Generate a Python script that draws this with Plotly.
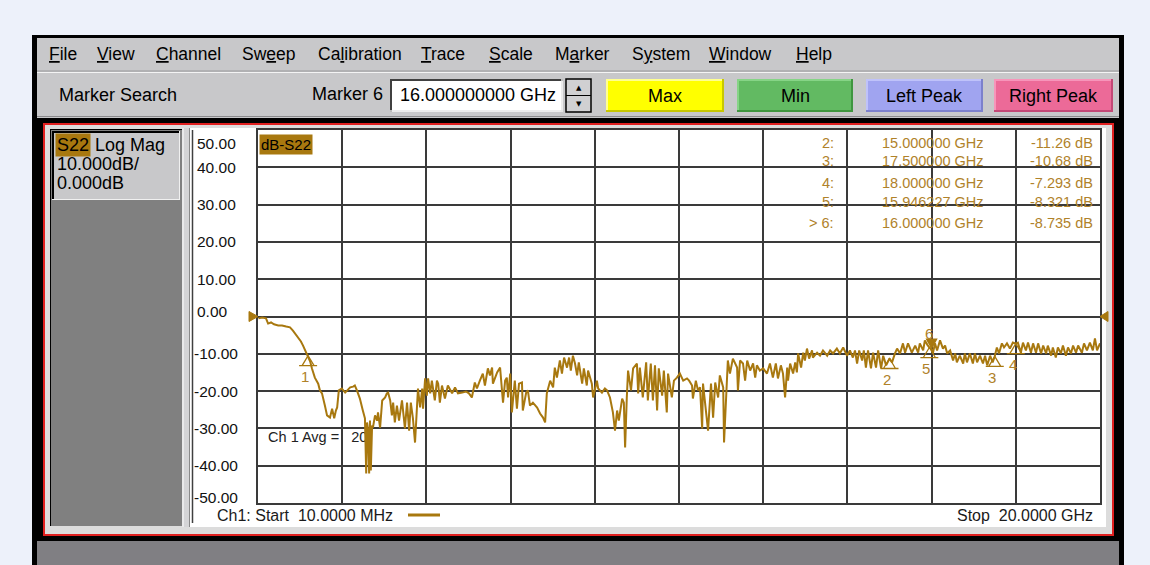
import plotly.graph_objects as go

W, H = 1150, 565

# ---- S22 log-magnitude sweep, 10 MHz .. 20 GHz ----
freq_ghz = [
    0.01, 0.10, 0.19, 0.24, 0.31, 0.38, 0.48, 0.57, 0.67, 0.76,
    0.83, 0.90, 0.95, 1.02, 1.07, 1.14, 1.19, 1.24, 1.28, 1.35,
    1.43, 1.47, 1.52, 1.57, 1.59, 1.64, 1.69, 1.71, 1.76, 1.81,
    1.85, 1.88, 1.92, 1.99, 2.07, 2.14, 2.19, 2.26, 2.30, 2.35,
    2.42, 2.49, 2.54, 2.57, 2.59, 2.61, 2.64, 2.66, 2.68, 2.71,
    2.73, 2.78, 2.83, 2.85, 2.90, 2.95, 3.02, 3.06, 3.09, 3.14,
    3.18, 3.21, 3.25, 3.30, 3.35, 3.42, 3.44, 3.49, 3.54, 3.59,
    3.63, 3.68, 3.73, 3.78, 3.80, 3.85, 3.90, 3.92, 3.97, 4.01,
    4.04, 4.09, 4.13, 4.20, 4.25, 4.28, 4.32, 4.37, 4.44, 4.51,
    4.61, 4.68, 4.75, 4.85, 4.94, 5.01, 5.08, 5.15, 5.20, 5.27,
    5.34, 5.39, 5.46, 5.51, 5.56, 5.58, 5.63, 5.68, 5.75, 5.82,
    5.87, 5.91, 5.94, 5.99, 6.03, 6.10, 6.15, 6.20, 6.27, 6.29,
    6.37, 6.41, 6.46, 6.53, 6.63, 6.70, 6.77, 6.82, 6.86, 6.89,
    6.94, 7.01, 7.05, 7.10, 7.17, 7.22, 7.27, 7.34, 7.39, 7.43,
    7.48, 7.53, 7.58, 7.62, 7.70, 7.74, 7.81, 7.84, 7.93, 7.96,
    8.05, 8.08, 8.17, 8.24, 8.29, 8.36, 8.43, 8.48, 8.53, 8.57,
    8.65, 8.69, 8.72, 8.76, 8.79, 8.86, 8.91, 9.00, 9.03, 9.07,
    9.14, 9.22, 9.26, 9.33, 9.38, 9.43, 9.48, 9.52, 9.60, 9.64,
    9.71, 9.74, 9.83, 9.88, 9.95, 10.02, 10.10, 10.19, 10.24, 10.31,
    10.33, 10.40, 10.45, 10.50, 10.55, 10.57, 10.64, 10.69, 10.76, 10.81,
    10.86, 10.93, 10.97, 11.05, 11.07, 11.14, 11.16, 11.21, 11.28, 11.38,
    11.40, 11.45, 11.52, 11.57, 11.62, 11.69, 11.76, 11.81, 11.85, 11.92,
    12.00, 12.09, 12.16, 12.23, 12.30, 12.35, 12.42, 12.47, 12.52, 12.57,
    12.59, 12.64, 12.71, 12.76, 12.80, 12.83, 12.90, 12.95, 12.99, 13.04,
    13.09, 13.16, 13.18, 13.28, 13.35, 13.42, 13.52, 13.59, 13.66, 13.75,
    13.82, 13.90, 13.99, 14.06, 14.13, 14.18, 14.23, 14.28, 14.35, 14.39,
    14.44, 14.49, 14.56, 14.61, 14.68, 14.73, 14.80, 14.85, 14.92, 15.00,
    15.06, 15.13, 15.18, 15.25, 15.32, 15.37, 15.44, 15.53, 15.61, 15.68,
    15.72, 15.80, 15.84, 15.90, 15.946227, 16.00, 16.03, 16.08, 16.13, 16.20,
    16.27, 16.32, 16.37, 16.44, 16.51, 16.56, 16.60, 16.67, 16.75, 16.79,
    16.84, 16.91, 16.98, 17.03, 17.08, 17.15, 17.22, 17.27, 17.32, 17.39,
    17.45, 17.50, 17.55, 17.60, 17.67, 17.72, 17.79, 17.86, 17.93, 18.00,
    18.05, 18.12, 18.17, 18.24, 18.29, 18.36, 18.41, 18.48, 18.53, 18.60,
    18.65, 18.72, 18.76, 18.84, 18.88, 18.95, 19.00, 19.07, 19.12, 19.19,
    19.24, 19.31, 19.36, 19.43, 19.48, 19.57, 19.62, 19.69, 19.76, 19.83,
    19.88, 19.93, 20.00,
]
s22_db = [
    -0.5, -0.3, -0.5, -1.9, -1.6, -2.1, -2.4, -2.4, -2.7, -2.9,
    -3.8, -4.8, -5.6, -6.7, -7.8, -9.4, -10.5, -12.1, -13.9, -16.4,
    -18.0, -19.8, -20.6, -22.5, -23.9, -26.5, -26.8, -27.1, -24.7, -27.3,
    -25.2, -24.4, -19.8, -19.3, -20.4, -19.6, -19.0, -18.8, -18.5, -19.8,
    -22.0, -25.2, -27.3, -42.1, -28.4, -30.0, -42.1, -27.9, -41.3, -29.2,
    -29.8, -26.5, -27.9, -25.7, -29.8, -22.5, -21.7, -20.6, -20.4, -22.5,
    -26.5, -23.1, -28.4, -23.9, -27.9, -22.5, -25.2, -30.0, -23.1, -30.6,
    -23.1, -27.3, -33.8, -24.4, -19.3, -24.4, -19.3, -24.7, -16.6, -21.2,
    -16.6, -20.6, -17.2, -22.5, -17.2, -18.0, -23.1, -18.5, -22.0, -18.5,
    -20.6, -19.0, -20.6, -20.4, -20.1, -20.6, -21.7, -17.7, -19.3, -17.2,
    -15.3, -18.5, -13.9, -15.8, -13.7, -18.0, -16.6, -15.0, -13.7, -23.1,
    -17.2, -16.4, -21.7, -15.3, -25.7, -17.2, -24.7, -18.0, -17.7, -25.2,
    -20.4, -19.8, -23.9, -23.1, -24.4, -26.0, -27.1, -28.4, -20.6, -19.3,
    -17.2, -19.0, -13.7, -16.4, -11.8, -15.3, -11.0, -13.7, -11.0, -14.5,
    -10.5, -12.6, -15.8, -12.3, -18.0, -13.9, -18.5, -14.5, -18.0, -21.7,
    -17.2, -19.3, -20.4, -19.3, -19.8, -21.7, -25.7, -30.6, -25.2, -27.9,
    -22.0, -23.1, -35.1, -21.7, -14.5, -19.8, -13.9, -12.6, -20.6, -13.7,
    -21.7, -12.3, -22.5, -12.6, -22.5, -13.1, -25.2, -13.9, -21.2, -14.5,
    -25.7, -15.3, -21.7, -17.2, -16.4, -15.3, -17.2, -16.6, -17.2, -18.5,
    -22.0, -17.2, -19.8, -19.0, -30.0, -18.0, -25.2, -30.6, -18.0, -27.1,
    -17.7, -21.7, -15.8, -19.0, -33.8, -14.5, -11.8, -15.3, -11.3, -13.7,
    -19.8, -11.8, -12.6, -17.2, -11.8, -14.5, -12.6, -16.4, -13.1, -14.5,
    -13.9, -15.3, -12.6, -16.4, -12.6, -16.6, -13.1, -15.3, -21.7, -13.7,
    -17.2, -12.6, -15.3, -12.3, -15.0, -9.9, -13.7, -9.7, -11.8, -8.6,
    -11.3, -9.1, -11.0, -9.7, -10.5, -9.1, -10.5, -9.1, -9.9, -8.6,
    -9.9, -8.3, -10.5, -9.1, -11.0, -9.1, -12.6, -9.1, -11.8, -9.1,
    -13.7, -9.1, -13.9, -9.7, -13.7, -9.1, -13.9, -10.5, -13.1, -11.26,
    -12.3, -9.9, -8.6, -9.9, -7.2, -9.7, -7.2, -9.7, -7.8, -9.7,
    -7.2, -9.1, -6.4, -7.6, -8.321, -8.735, -9.9, -7.2, -9.1, -6.4,
    -8.6, -7.8, -9.9, -9.1, -11.8, -9.9, -12.3, -10.5, -12.6, -9.9,
    -12.3, -9.9, -12.6, -9.9, -12.3, -10.5, -12.6, -10.5, -13.1, -10.5,
    -12.3, -10.68, -8.3, -9.9, -7.2, -8.3, -7.2, -8.6, -7.0, -7.293,
    -7.0, -9.7, -7.0, -9.1, -7.0, -9.7, -7.2, -9.7, -7.2, -9.9,
    -7.8, -9.9, -7.8, -10.5, -8.3, -11.0, -8.3, -9.9, -7.8, -10.5,
    -8.3, -9.9, -7.8, -9.7, -7.8, -9.7, -7.2, -9.1, -7.0, -9.1,
    -5.9, -9.1, -7.2,
]

# ---- markers ----
marker_ids = [1, 2, 3, 4, 5, 6]
marker_freq_ghz = [1.19, 15.0, 17.5, 18.0, 15.946227, 16.0]
marker_db = [-10.5, -11.26, -10.68, -7.293, -8.321, -8.735]
active_marker = 6
table_markers = [2, 3, 4, 5, 6]

ref_level_db = 0.0
avg_count = 20

y_ticks = [50, 40, 30, 20, 10, 0, -10, -20, -30, -40, -50]
y_tick_text = ["50.00", "40.00", "30.00", "20.00", "10.00", "0.00",
               "-10.00", "-20.00", "-30.00", "-40.00", "-50.00"]

menu_labels = ["<u>F</u>ile", "<u>V</u>iew", "<u>C</u>hannel", "Sw<u>e</u>ep",
               "Ca<u>l</u>ibration", "<u>T</u>race", "<u>S</u>cale", "M<u>a</u>rker",
               "S<u>y</u>stem", "<u>W</u>indow", "<u>H</u>elp"]
search_buttons = ["Max", "Min", "Left Peak", "Right Peak"]
start_label = "Ch1: Start  10.0000 MHz"
stop_label = "Stop  20.0000 GHz"

# ---- styling ----
FONT = "Liberation Sans, Arial, sans-serif"
GOLD = "#A8780F"
GOLD_TXT = "#B0822A"
GRID = "#3A3A3A"
UI_GRAY = "#C8C8CA"
menu_x = [47, 95, 154, 240, 316, 419, 487, 553, 630, 707, 794]
button_boxes = [(606, 724), (737, 853), (866, 983), (994, 1113)]
button_fill = ["#FFFF00", "#62BA62", "#A0A4F0", "#EC6A98"]
button_light = ["#FFFF90", "#86D486", "#BFC2FA", "#F795BA"]
button_dark = ["#C8C800", "#3F963F", "#7C80CC", "#C44876"]

GRID_L, GRID_R, GRID_T, GRID_B = 258, 1100, 130, 503


def X(px):
    return px / W


def Y(py):
    return 1 - py / H


shapes = []
annots = []


def rect(x0, y0, x1, y1, fill, line=None, lw=0, layer="below"):
    shapes.append(dict(type="rect", xref="paper", yref="paper",
                       x0=X(x0), x1=X(x1), y0=Y(y1), y1=Y(y0),
                       fillcolor=fill, line=dict(color=line or fill, width=lw),
                       layer=layer))


def seg(x0, y0, x1, y1, color, w=1, layer="below"):
    shapes.append(dict(type="line", xref="paper", yref="paper",
                       x0=X(x0), x1=X(x1), y0=Y(y0), y1=Y(y1),
                       line=dict(color=color, width=w), layer=layer))


def text(px, py, s, size=18, color="#000000", anchor="left", bg=None, family=FONT):
    a = dict(xref="paper", yref="paper", x=X(px), y=Y(py), text=s,
             showarrow=False, xanchor=anchor, yanchor="middle",
             font=dict(family=family, size=size, color=color), borderpad=1)
    if bg:
        a["bgcolor"] = bg
    annots.append(a)


# window frame and menu / toolbar
rect(32, 35, 1124, 565, "#000000")
rect(37, 38, 1119, 118, UI_GRAY)
seg(37, 71, 1119, 71, "#9A9A9C", 1)
seg(37, 72.5, 1119, 72.5, "#F4F4F4", 1)
seg(37, 116.5, 1119, 116.5, "#8A8A8C", 1)
for lbl, mx in zip(menu_labels, menu_x):
    text(mx, 54, lbl, size=17.5)

text(57, 95, "Marker Search", size=18)
text(310, 94, "Marker 6", size=18)

# frequency entry box
rect(390, 79, 563, 112, "#FFFFFF")
seg(390, 80, 563, 80, "#404040", 2)
seg(391, 79, 391, 112, "#404040", 2)
seg(390, 111, 563, 111, "#E4E4E4", 1.5)
seg(562, 79, 562, 112, "#E4E4E4", 1.5)
text(398, 95, "%.9f GHz" % marker_freq_ghz[marker_ids.index(active_marker)], size=18)

# spinner
rect(566, 79, 591, 112, "#D0D0D2", "#000000", 1.5)
seg(566, 95.5, 591, 95.5, "#000000", 1)
text(578.5, 87.5, "▲", size=7, anchor="center", family="DejaVu Sans")
text(578.5, 103.5, "▼", size=7, anchor="center", family="DejaVu Sans")

# search buttons
for lbl, (bx0, bx1), f, lt, dk in zip(search_buttons, button_boxes, button_fill, button_light, button_dark):
    rect(bx0, 79, bx1, 112, f)
    seg(bx0, 80, bx1, 80, lt, 2)
    seg(bx0 + 1, 79, bx0 + 1, 112, lt, 2)
    seg(bx0, 111, bx1, 111, dk, 2)
    seg(bx1 - 1, 79, bx1 - 1, 112, dk, 2)
    text((bx0 + bx1) / 2, 96, lbl, size=18, anchor="center")

# channel window frame
rect(44, 124, 1113, 535, "#DCDCDC", "#E02020", 2)
rect(50, 129, 182, 526, "#808080")
seg(50, 129.5, 182, 129.5, "#000000", 1)
seg(50.5, 129, 50.5, 526, "#000000", 1)
rect(52, 131, 180, 200, UI_GRAY)
seg(52, 132, 180, 132, "#000000", 2)
seg(53, 131, 53, 200, "#000000", 2)
seg(52, 199.5, 180, 199.5, "#F0F0F0", 1)
seg(179.5, 131, 179.5, 200, "#F0F0F0", 1)
rect(182, 128, 190, 527, "#D4D4D6")
seg(183, 128, 183, 527, "#FFFFFF", 1)
seg(189.5, 128, 189.5, 527, "#8A8A8A", 1)
rect(190, 128, 1106, 527, "#FFFFFF")
seg(192.5, 130, 192.5, 523, "#404040", 1.5)
rect(37, 541, 1119, 565, "#807F83")

# trace info in the side panel
text(55, 145, "S22", size=18, bg=GOLD)
text(93, 145, "Log Mag", size=18)
text(55, 164, "10.000dB/", size=18)
text(55, 183, "0.000dB", size=18)

# y scale labels
for v, lbl in zip(y_ticks, y_tick_text):
    shift = 0
    if v == y_ticks[0]:
        shift = -13
    elif v == y_ticks[-1]:
        shift = 6
    elif v == ref_level_db:
        shift = 5
    annots.append(dict(xref="paper", yref="y", x=X(192 if lbl.startswith("-") else 195),
                       y=v, yshift=shift, text=lbl, showarrow=False,
                       xanchor="left", yanchor="middle",
                       font=dict(family=FONT, size=15.5, color="#111111")))

# trace title
text(GRID_L + 1, 144, "dB-S22", size=15, bg=GOLD)

# marker readout table
row_y = [143, 161, 183, 202, 223]
for ry, m in zip(row_y, table_markers):
    i = marker_ids.index(m)
    tag = ("> %d:" if m == active_marker else "%d:") % m
    text(836, ry, tag, size=14.5, color=GOLD_TXT, anchor="right")
    text(880, ry, "%.6f GHz" % marker_freq_ghz[i], size=14.5, color=GOLD_TXT)
    text(1095, ry, "%.4g dB" % marker_db[i], size=14.5, color=GOLD_TXT, anchor="right")

# footer
text(215, 515, start_label, size=16, color="#1A1A1A")
seg(408, 515, 440, 515, GOLD, 3)
text(1095, 515, stop_label, size=16, color="#1A1A1A", anchor="right")

# reference level arrows at both grid edges
for xa, path in ((X(GRID_L), "M0,0 L-9,5 L-9,-5 Z"), (X(GRID_R), "M0,0 L8,5 L8,-5 Z")):
    shapes.append(dict(type="path", xref="paper", yref="y", xsizemode="pixel",
                       ysizemode="pixel", xanchor=xa, yanchor=ref_level_db, path=path,
                       fillcolor=GOLD, line=dict(color=GOLD, width=1), layer="above"))

# marker symbols and numbers
for mid, mf, mv in zip(marker_ids, marker_freq_ghz, marker_db):
    if mid == active_marker:
        path = "M0,1 L-5,10 L5,10 Z"
        fill = GOLD
        dy = 16
    else:
        path = "M0,0 L-6,-10 L6,-10 Z M-9,-10 L9,-10"
        fill = "rgba(0,0,0,0)"
        dy = -21
    shapes.append(dict(type="path", xref="x", yref="y", xsizemode="pixel",
                       ysizemode="pixel", xanchor=mf, yanchor=mv, path=path,
                       fillcolor=fill, line=dict(color=GOLD, width=1.3), layer="above"))
    annots.append(dict(xref="x", yref="y", x=mf, y=mv, xshift=-3, yshift=dy,
                       text=str(mid), showarrow=False, xanchor="center", yanchor="middle",
                       font=dict(family=FONT, size=15, color=GOLD_TXT)))

fig = go.Figure()
fig.add_trace(go.Scatter(x=[0.24], y=[-32.7], mode="text", text=["Ch 1 Avg =   %d" % avg_count],
                         textposition="middle right", cliponaxis=False,
                         textfont=dict(family=FONT, size=14.5, color="#222222"),
                         hoverinfo="skip", showlegend=False))
fig.add_trace(go.Scatter(x=freq_ghz, y=s22_db, mode="lines",
                         line=dict(color=GOLD, width=2), hoverinfo="skip",
                         showlegend=False))

fig.update_layout(
    width=W, height=H, margin=dict(l=0, r=0, t=0, b=0),
    paper_bgcolor="#EDF1FA", plot_bgcolor="#FFFFFF",
    shapes=shapes, annotations=annots, showlegend=False,
    xaxis=dict(domain=[X(GRID_L), X(GRID_R)], range=[0, 20], tick0=0, dtick=2,
               showgrid=True, gridcolor=GRID, gridwidth=1.5, zeroline=False,
               showline=True, mirror=True, linecolor=GRID, linewidth=1.5,
               showticklabels=False, ticks="", fixedrange=True),
    yaxis=dict(domain=[Y(GRID_B), Y(GRID_T)], range=[-50, 50], tick0=0, dtick=10,
               showgrid=True, gridcolor=GRID, gridwidth=1.5, zeroline=False,
               showline=True, mirror=True, linecolor=GRID, linewidth=1.5,
               showticklabels=False, ticks="", fixedrange=True),
)

fig.write_html("out.html")
